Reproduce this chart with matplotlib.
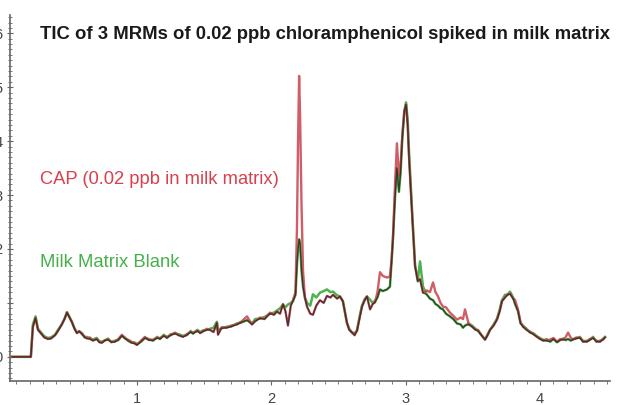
import numpy as np
import matplotlib.pyplot as plt
from matplotlib.ticker import MultipleLocator

# retention time (min) and TIC intensity (arbitrary units)
time = [0.07, 0.21, 0.225, 0.245, 0.263, 0.29, 0.31, 0.337, 0.36, 0.39, 0.412, 0.44, 0.46, 0.479,
        0.50, 0.516, 0.535, 0.553, 0.57, 0.591, 0.61, 0.628, 0.65, 0.672, 0.70, 0.72, 0.739, 0.76,
        0.784, 0.81, 0.836, 0.86, 0.888, 0.91, 0.933, 0.96, 0.98, 1.00, 1.03, 1.059, 1.09, 1.119,
        1.15, 1.171, 1.20, 1.223, 1.25, 1.283, 1.31, 1.342, 1.37, 1.40, 1.417, 1.45, 1.47, 1.491,
        1.52, 1.543, 1.57, 1.595, 1.603, 1.63, 1.67, 1.70, 1.744, 1.78, 1.819, 1.856, 1.88, 1.916,
        1.95, 1.99, 2.02, 2.042, 2.065, 2.087, 2.105, 2.124, 2.145, 2.161, 2.18, 2.191, 2.199, 2.207,
        2.214, 2.225, 2.236, 2.25, 2.266, 2.29, 2.31, 2.335, 2.362, 2.39, 2.414, 2.44, 2.459, 2.49,
        2.511, 2.533, 2.55, 2.563, 2.58, 2.601, 2.62, 2.638, 2.66, 2.675, 2.695, 2.712, 2.735, 2.755,
        2.772, 2.79, 2.809, 2.83, 2.861, 2.883, 2.895, 2.906, 2.921, 2.935, 2.950, 2.962, 2.975, 2.99,
        3.003, 3.015, 3.025, 3.047, 3.07, 3.09, 3.107, 3.129, 3.159, 3.181, 3.204, 3.222, 3.241, 3.26,
        3.278, 3.30, 3.33, 3.355, 3.382, 3.41, 3.427, 3.442, 3.47, 3.494, 3.52, 3.539, 3.565, 3.591,
        3.61, 3.628, 3.655, 3.680, 3.70, 3.717, 3.74, 3.755, 3.777, 3.80, 3.814, 3.836, 3.855, 3.873,
        3.90, 3.926, 3.95, 3.978, 4.00, 4.023, 4.05, 4.075, 4.10, 4.127, 4.15, 4.171, 4.19, 4.209,
        4.23, 4.246, 4.27, 4.298, 4.32, 4.350, 4.37, 4.395, 4.42, 4.447, 4.47, 4.484]

cap = [0, 0, 0.55, 0.72, 0.50, 0.42, 0.36, 0.33, 0.34, 0.40, 0.48, 0.60, 0.70, 0.82,
       0.72, 0.64, 0.52, 0.44, 0.48, 0.42, 0.38, 0.34, 0.36, 0.30, 0.33, 0.27, 0.26, 0.31,
       0.32, 0.28, 0.28, 0.33, 0.41, 0.34, 0.32, 0.28, 0.25, 0.22, 0.30, 0.37, 0.31, 0.32,
       0.35, 0.35, 0.39, 0.37, 0.40, 0.45, 0.40, 0.37, 0.42, 0.46, 0.45, 0.48, 0.44, 0.47,
       0.52, 0.50, 0.46, 0.63, 0.41, 0.55, 0.54, 0.58, 0.60, 0.66, 0.75, 0.60, 0.66, 0.73,
       0.70, 0.82, 0.78, 0.84, 0.80, 0.98, 0.85, 0.58, 0.95, 1.05, 1.20, 2.4, 4.0, 5.21,
       4.5, 2.8, 1.6, 1.1, 0.93, 0.80, 0.78, 0.95, 1.05, 1.00, 1.13, 1.10, 1.15, 1.08,
       1.12, 1.03, 0.80, 0.63, 0.50, 0.45, 0.40, 0.50, 0.75, 0.93, 1.05, 1.12, 0.88, 0.98,
       1.01, 1.20, 1.57, 1.50, 1.47, 1.49, 1.80, 2.25, 3.20, 3.96, 3.36, 3.55, 4.10, 4.55,
       4.68, 4.30, 3.70, 2.69, 1.68, 1.44, 1.44, 1.19, 1.23, 1.20, 1.38, 1.20, 1.12, 1.00,
       0.93, 0.92, 0.82, 0.76, 0.69, 0.73, 0.70, 0.88, 0.60, 0.56, 0.50, 0.50, 0.40, 0.32,
       0.42, 0.50, 0.58, 0.69, 0.84, 1.03, 1.10, 1.16, 1.17, 1.08, 1.06, 0.88, 0.65, 0.56,
       0.50, 0.47, 0.42, 0.37, 0.33, 0.32, 0.30, 0.32, 0.35, 0.28, 0.33, 0.32, 0.36, 0.45,
       0.35, 0.32, 0.36, 0.35, 0.30, 0.28, 0.33, 0.35, 0.30, 0.28, 0.34, 0.36]

blank = [0, 0, 0.60, 0.75, 0.52, 0.44, 0.38, 0.35, 0.36, 0.41, 0.50, 0.60, 0.70, 0.83,
         0.73, 0.65, 0.53, 0.45, 0.47, 0.44, 0.36, 0.37, 0.33, 0.32, 0.35, 0.29, 0.28, 0.30,
         0.34, 0.27, 0.30, 0.31, 0.39, 0.36, 0.30, 0.26, 0.27, 0.24, 0.28, 0.35, 0.33, 0.30,
         0.37, 0.33, 0.41, 0.35, 0.42, 0.43, 0.42, 0.39, 0.40, 0.48, 0.43, 0.50, 0.46, 0.49,
         0.50, 0.52, 0.54, 0.65, 0.50, 0.53, 0.56, 0.56, 0.62, 0.64, 0.68, 0.62, 0.70, 0.71,
         0.74, 0.80, 0.82, 0.86, 0.90, 0.97, 0.92, 0.97, 1.00, 1.03, 1.15, 1.7, 2.0, 2.18,
         2.10, 1.6, 1.3, 1.1, 1.0, 0.95, 1.16, 1.10, 1.19, 1.22, 1.25, 1.20, 1.21, 1.14,
         1.12, 1.03, 0.80, 0.63, 0.52, 0.45, 0.44, 0.48, 0.78, 0.95, 1.07, 1.12, 1.06, 1.00,
         1.04, 1.10, 1.25, 1.22, 1.25, 1.30, 1.75, 2.20, 2.95, 3.50, 3.06, 3.40, 4.05, 4.55,
         4.72, 4.40, 3.80, 2.75, 1.70, 1.40, 1.77, 1.30, 1.15, 1.08, 1.05, 0.98, 0.95, 0.90,
         0.88, 0.80, 0.75, 0.70, 0.62, 0.60, 0.54, 0.58, 0.62, 0.58, 0.52, 0.48, 0.40, 0.32,
         0.40, 0.50, 0.60, 0.71, 0.88, 1.05, 1.15, 1.14, 1.21, 1.10, 0.98, 0.85, 0.62, 0.58,
         0.52, 0.45, 0.44, 0.38, 0.35, 0.30, 0.33, 0.28, 0.33, 0.27, 0.31, 0.34, 0.31, 0.33,
         0.30, 0.33, 0.34, 0.37, 0.28, 0.30, 0.31, 0.37, 0.28, 0.30, 0.32, 0.37]

xticks = [1, 2, 3, 4]
yticks = [0, 1, 2, 3, 4, 5, 6]
ytick_labels = ['0', '', '2', '3', '4', '5', '6']

plt.rcParams['font.family'] = ['Liberation Sans', 'DejaVu Sans']

fig = plt.figure(figsize=(6.19, 4.05), dpi=100)
ax = fig.add_axes([0.0162, 0.059, 0.969, 0.904])

t = np.array(time)
c = np.array(cap)
b = np.array(blank)
ax.plot(t, b, color='#4cb34f', lw=1.8, zorder=2)
ax.plot(t, c, color='#c8404c', lw=1.7, alpha=0.85, zorder=3)
# where the two traces overlap the print shows a dark line
ax.plot(t, np.minimum(c, b), color='#2a2620', lw=1.0, alpha=0.8, zorder=4)

ax.set_xlim(0.055, 4.52)
ax.set_ylim(-0.45, 6.34)
ax.set_xticks(xticks)
ax.xaxis.set_minor_locator(MultipleLocator(0.1))
ax.set_yticks(yticks)
ax.set_yticklabels(ytick_labels)
ax.yaxis.set_minor_locator(MultipleLocator(0.1))

for s in ['top', 'right']:
    ax.spines[s].set_visible(False)
for s in ['left', 'bottom']:
    ax.spines[s].set_color('#666666')
    ax.spines[s].set_linewidth(1.2)

ax.tick_params(axis='both', which='both', colors='#666666', labelcolor='#444444', labelsize=10.5)
ax.tick_params(axis='x', which='major', direction='out', length=3, pad=5)
ax.tick_params(axis='x', which='minor', direction='out', length=2)
ax.tick_params(axis='y', which='major', direction='inout', length=5, pad=3)
ax.tick_params(axis='y', which='minor', direction='inout', length=3)

fig.text(0.0646, 0.9136, 'TIC of 3 MRMs of 0.02 ppb chloramphenicol spiked in milk matrix',
         fontsize=13.3, fontweight='bold', color='#1a1a1a', va='center', ha='left')
fig.text(0.0646, 0.5556, 'CAP (0.02 ppb in milk matrix)', fontsize=13.2, color='#d9404e',
         va='center', ha='left')
fig.text(0.0646, 0.353, 'Milk Matrix Blank', fontsize=13.3, color='#46b04a',
         va='center', ha='left')

fig.savefig('out.png', dpi=100)
